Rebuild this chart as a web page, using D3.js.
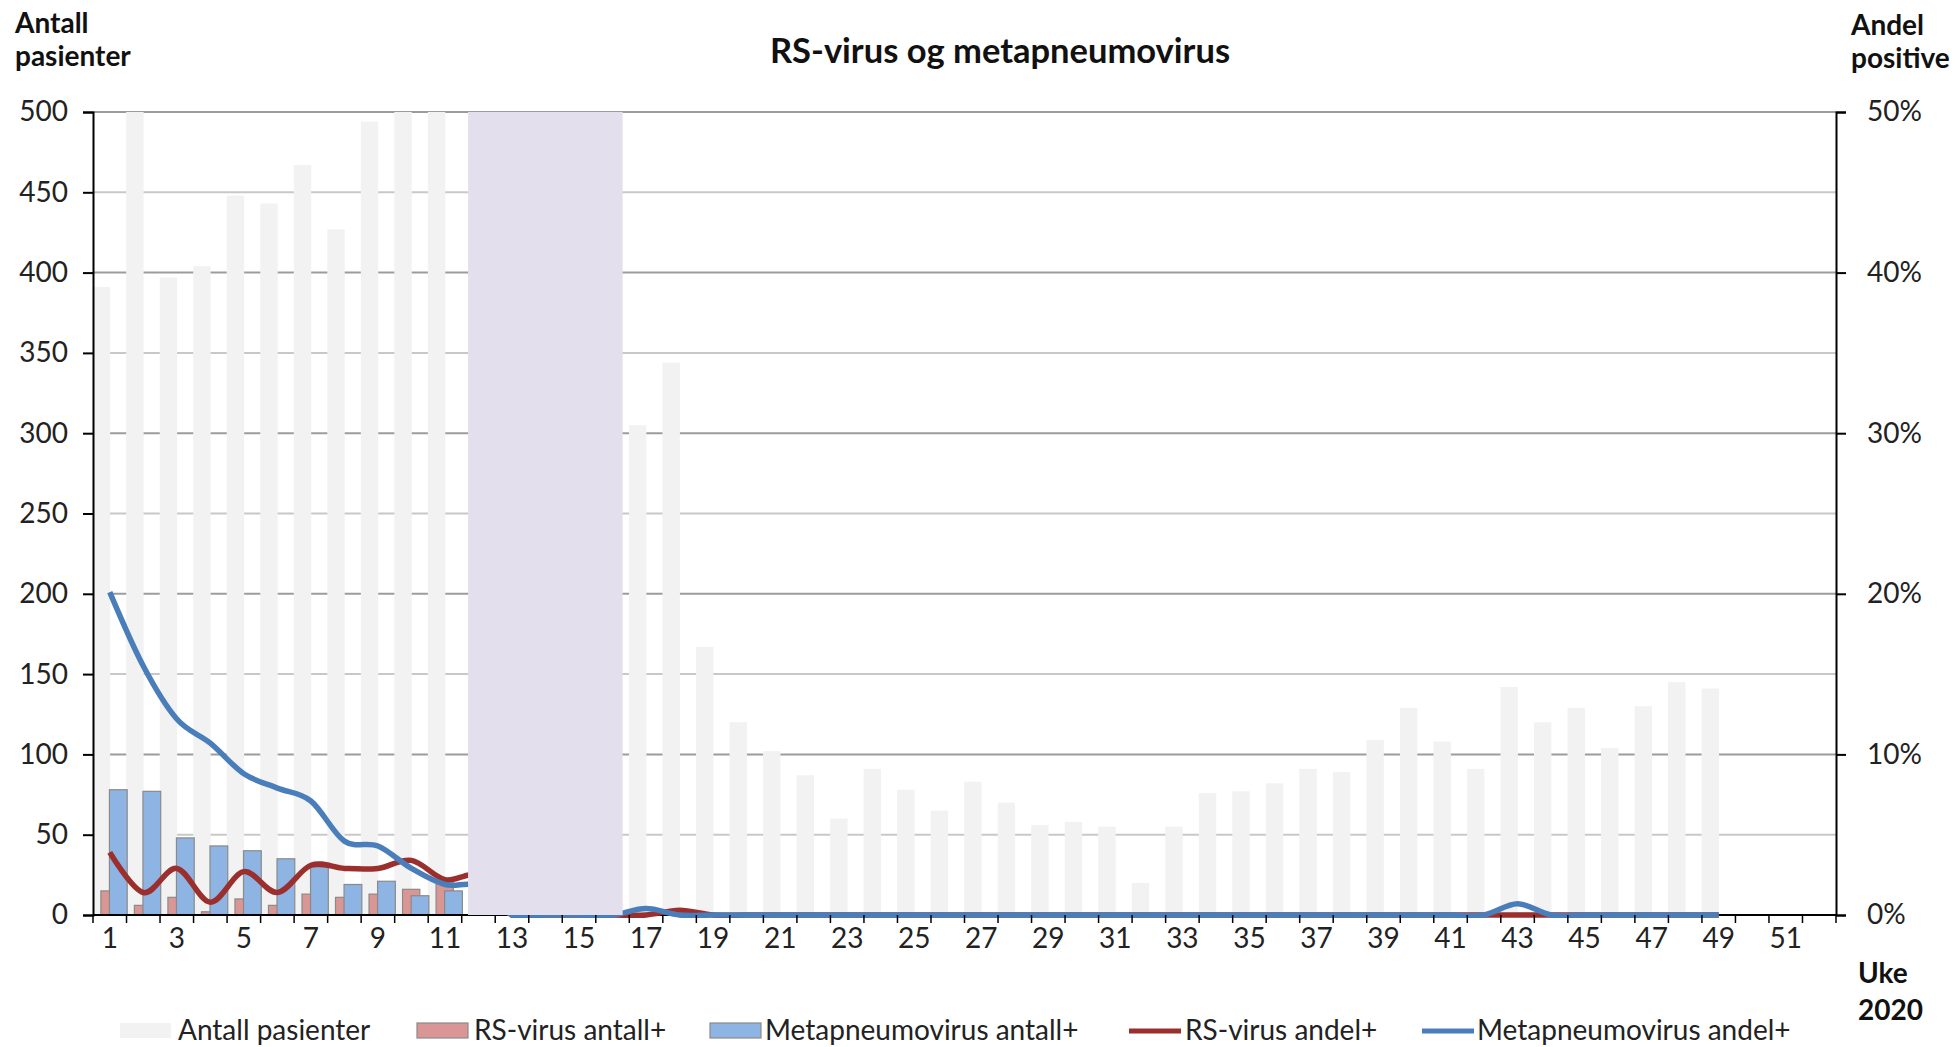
<!DOCTYPE html>
<html>
<head>
<meta charset="utf-8">
<script src="https://cdn.jsdelivr.net/npm/d3@7"></script>
<style>
  body { margin: 0; background: #fff; }
  svg { font-family: Lato, "Open Sans", sans-serif; }
</style>
</head>
<body>
<svg id="chart"></svg>
<script>
// Categories: week numbers
var weeks = [1, 2, 3, 4, 5, 6, 7, 8, 9, 10, 11, 12, 13, 14, 15, 16, 17, 18, 19, 20,
  21, 22, 23, 24, 25, 26, 27, 28, 29, 30, 31, 32, 33, 34, 35, 36, 37, 38, 39, 40,
  41, 42, 43, 44, 45, 46, 47, 48, 49, 50, 51, 52];

// Antall pasienter (values above 500 are cut at the top of the chart)
var antallPasienter = [391, 520, 397, 404, 448, 443, 467, 427, 494, 530, 540, null, null, null, null, null,
  305, 344, 167, 120, 102, 87, 60, 91, 78, 65, 83, 70, 56, 58, 55, 20, 55, 76, 77, 82, 91, 89,
  109, 129, 108, 91, 142, 120, 129, 104, 130, 145, 141, null, null, null];

// RS-virus antall+
var rsAntall = [15, 6, 11, 2, 10, 6, 13, 11, 13, 16, 20, null, null, null, null, null,
  0, 1, 0, 0, 0, 0, 0, 0, 0, 0, 0, 0, 0, 0, 0, 0, 0, 0, 0, 0, 0, 0,
  0, 0, 0, 0, 0, 0, 0, 0, 0, 0, 0, null, null, null];

// Metapneumovirus antall+
var mpvAntall = [78, 77, 48, 43, 40, 35, 30, 19, 21, 12, 15, null, null, null, null, null,
  1, 0, 0, 0, 0, 0, 0, 0, 0, 0, 0, 0, 0, 0, 0, 0, 0, 0, 0, 0, 0, 0,
  0, 0, 0, 0, 1, 0, 0, 0, 0, 0, 0, null, null, null];

// RS-virus andel+ (share of positives)
var rsAndel = [0.039, 0.014, 0.029, 0.008, 0.027, 0.014, 0.031, 0.029, 0.029, 0.034, 0.022, 0.024, 0, 0, 0, 0,
  0, 0.003, 0, 0, 0, 0, 0, 0, 0, 0, 0, 0, 0, 0, 0, 0, 0, 0, 0, 0, 0, 0,
  0, 0, 0, 0, 0, 0, 0, 0, 0, 0, 0, null, null, null];

// Metapneumovirus andel+
var mpvAndel = [0.201, 0.155, 0.122, 0.107, 0.088, 0.079, 0.071, 0.046, 0.043, 0.029, 0.019, 0.018, 0, 0, 0, 0,
  0.004, 0, 0, 0, 0, 0, 0, 0, 0, 0, 0, 0, 0, 0, 0, 0, 0, 0, 0, 0, 0, 0,
  0, 0, 0, 0, 0.007, 0, 0, 0, 0, 0, 0, null, null, null];

// Shaded period (weeks without data)
var shadeWeeks = [12, 16];

// Axis ticks
var leftTicks = [0, 50, 100, 150, 200, 250, 300, 350, 400, 450, 500];
var rightTicks = [0, 0.1, 0.2, 0.3, 0.4, 0.5];
var weekLabels = [1, 3, 5, 7, 9, 11, 13, 15, 17, 19, 21, 23, 25, 27, 29, 31, 33, 35, 37, 39, 41, 43, 45, 47, 49, 51];

var seriesNames = ["Antall pasienter", "RS-virus antall+", "Metapneumovirus antall+", "RS-virus andel+", "Metapneumovirus andel+"];

// Dimensions
var width = 1955, height = 1047;
var margin = {top: 112, right: 119, bottom: 132, left: 93};
var plotW = width - margin.left - margin.right;
var plotH = height - margin.top - margin.bottom;

var colGrey = "#f2f2f2", colPink = "#da9694", colBlue = "#8db4e2",
    colRed = "#9a2f2d", colLine = "#4a7ebb", colShade = "#e4dfec";
var fontSize = "28px";

var svg = d3.select("#chart")
    .attr("width", width)
    .attr("height", height);

var g = svg.append("g")
    .attr("transform", "translate(" + margin.left + "," + margin.top + ")");

var x = d3.scaleBand().domain(weeks).range([0, plotW]).padding(0);
var bw = x.bandwidth();
var yL = d3.scaleLinear().domain([0, 500]).range([plotH, 0]).clamp(true);
var yR = d3.scaleLinear().domain([0, 0.5]).range([plotH, 0]);

// Gridlines: light for left axis, darker for right axis
g.append("g").selectAll("line")
  .data(leftTicks.filter(function(d) { return d % 100 !== 0; }))
  .join("line")
    .attr("x1", 0).attr("x2", plotW)
    .attr("y1", function(d) { return yL(d); })
    .attr("y2", function(d) { return yL(d); })
    .attr("stroke", "#c8c8c8").attr("stroke-width", 2);

g.append("g").selectAll("line")
  .data(rightTicks.filter(function(d) { return d > 0; }))
  .join("line")
    .attr("x1", 0).attr("x2", plotW)
    .attr("y1", function(d) { return yR(d); })
    .attr("y2", function(d) { return yR(d); })
    .attr("stroke", "#9c9c9c").attr("stroke-width", 2);

// Bars
function drawBars(values, offset, frac, fill, stroke) {
  g.append("g").selectAll("rect")
    .data(weeks.map(function(w, i) { return {w: w, v: values[i]}; })
      .filter(function(d) { return d.v != null && d.v > 0; }))
    .join("rect")
      .attr("x", function(d) { return x(d.w) + bw * offset; })
      .attr("width", bw * frac)
      .attr("y", function(d) { return yL(d.v); })
      .attr("height", function(d) { return plotH - yL(d.v); })
      .attr("fill", fill)
      .attr("stroke", stroke)
      .attr("stroke-width", stroke === "none" ? 0 : 1.2);
}
drawBars(antallPasienter, -0.01, 0.52, colGrey, "none");
drawBars(rsAntall, 0.235, 0.515, colPink, "#8a8a8a");
drawBars(mpvAntall, 0.49, 0.53, colBlue, "#8a8a8a");

// x axis baseline
g.append("line")
  .attr("x1", 0).attr("x2", plotW)
  .attr("y1", plotH).attr("y2", plotH)
  .attr("stroke", "#000").attr("stroke-width", 2);

// Lines (smoothed), clipped to the plot area
svg.append("defs").append("clipPath").attr("id", "plotclip")
  .append("rect").attr("x", 0).attr("y", 0).attr("width", plotW).attr("height", plotH + 3);

function drawLine(values, color) {
  var line = d3.line()
    .defined(function(d) { return d.v != null; })
    .x(function(d) { return x(d.w) + bw / 2; })
    .y(function(d) { return yR(d.v); })
    .curve(d3.curveCardinal);
  g.append("path")
    .datum(weeks.map(function(w, i) { return {w: w, v: values[i]}; }))
    .attr("clip-path", "url(#plotclip)")
    .attr("d", line)
    .attr("fill", "none")
    .attr("stroke", color)
    .attr("stroke-width", 5.5)
    .attr("stroke-linejoin", "round");
}
drawLine(rsAndel, colRed);
drawLine(mpvAndel, colLine);

// Shaded period on top
g.append("rect")
  .attr("x", x(shadeWeeks[0]) + bw * 0.19)
  .attr("width", x(shadeWeeks[1]) + bw * 0.8 - x(shadeWeeks[0]) - bw * 0.19)
  .attr("y", 0)
  .attr("height", plotH)
  .attr("fill", colShade);

// Week ticks between categories
g.append("g").selectAll("line")
  .data(weeks.concat(["end"]))
  .join("line")
    .attr("x1", function(d) { return d === "end" ? plotW : x(d); })
    .attr("x2", function(d) { return d === "end" ? plotW : x(d); })
    .attr("y1", plotH).attr("y2", plotH + 8)
    .attr("stroke", "#000").attr("stroke-width", 1.5);

// Week labels
g.append("g").selectAll("text")
  .data(weekLabels)
  .join("text")
    .attr("x", function(d) { return x(d) + bw / 2; })
    .attr("y", plotH + 33)
    .attr("text-anchor", "middle")
    .style("font-size", fontSize)
    .attr("fill", "#222")
    .text(function(d) { return d; });

// Left axis
var leftAxis = g.append("g")
  .call(d3.axisLeft(yL).tickValues(leftTicks).tickSize(10).tickPadding(15));
// Right axis
var rightAxis = g.append("g")
  .attr("transform", "translate(" + plotW + ",0)")
  .call(d3.axisRight(yR).tickValues(rightTicks).tickSize(10).tickPadding(21).tickFormat(d3.format(".0%")));

[leftAxis, rightAxis].forEach(function(a) {
  a.select(".domain").attr("stroke", "#000").attr("stroke-width", 2);
  a.selectAll(".tick line").attr("stroke", "#000").attr("stroke-width", 2);
  a.selectAll(".tick text").style("font-size", fontSize).attr("fill", "#222")
    .style("font-family", "Lato, 'Open Sans', sans-serif");
});

// Title and axis titles
svg.append("text")
  .attr("x", 1000).attr("y", 63)
  .attr("text-anchor", "middle")
  .style("font-size", "34.5px").style("font-weight", "bold")
  .attr("fill", "#111")
  .text("RS-virus og metapneumovirus");

function boldLabel(lines, x0, ys) {
  var t = svg.append("text").style("font-size", fontSize).style("font-weight", "bold").attr("fill", "#111");
  lines.forEach(function(s, i) {
    t.append("tspan").attr("x", x0).attr("y", ys[i]).text(s);
  });
}
boldLabel(["Antall", "pasienter"], 15, [33, 66]);
boldLabel(["Andel", "positive"], 1851, [35, 68]);
boldLabel(["Uke", "2020"], 1858, [983, 1020]);

// Legend
var legendItems = [
  {name: seriesNames[0], type: "box", fill: colGrey, stroke: "none", x: 120, tx: 178},
  {name: seriesNames[1], type: "box", fill: colPink, stroke: "#8a8a8a", x: 417, tx: 474},
  {name: seriesNames[2], type: "box", fill: colBlue, stroke: "#8a8a8a", x: 710, tx: 765},
  {name: seriesNames[3], type: "line", fill: colRed, x: 1129, tx: 1185},
  {name: seriesNames[4], type: "line", fill: colLine, x: 1422, tx: 1477}
];
var legend = svg.append("g");
legendItems.forEach(function(d) {
  if (d.type === "box") {
    legend.append("rect")
      .attr("x", d.x).attr("y", 1023).attr("width", 51).attr("height", 15)
      .attr("fill", d.fill).attr("stroke", d.stroke).attr("stroke-width", 1.2);
  } else {
    legend.append("line")
      .attr("x1", d.x).attr("x2", d.x + 52).attr("y1", 1031).attr("y2", 1031)
      .attr("stroke", d.fill).attr("stroke-width", 5);
  }
  legend.append("text")
    .attr("x", d.tx).attr("y", 1040)
    .style("font-size", fontSize).attr("fill", "#222")
    .text(d.name);
});
</script>
</body>
</html>
